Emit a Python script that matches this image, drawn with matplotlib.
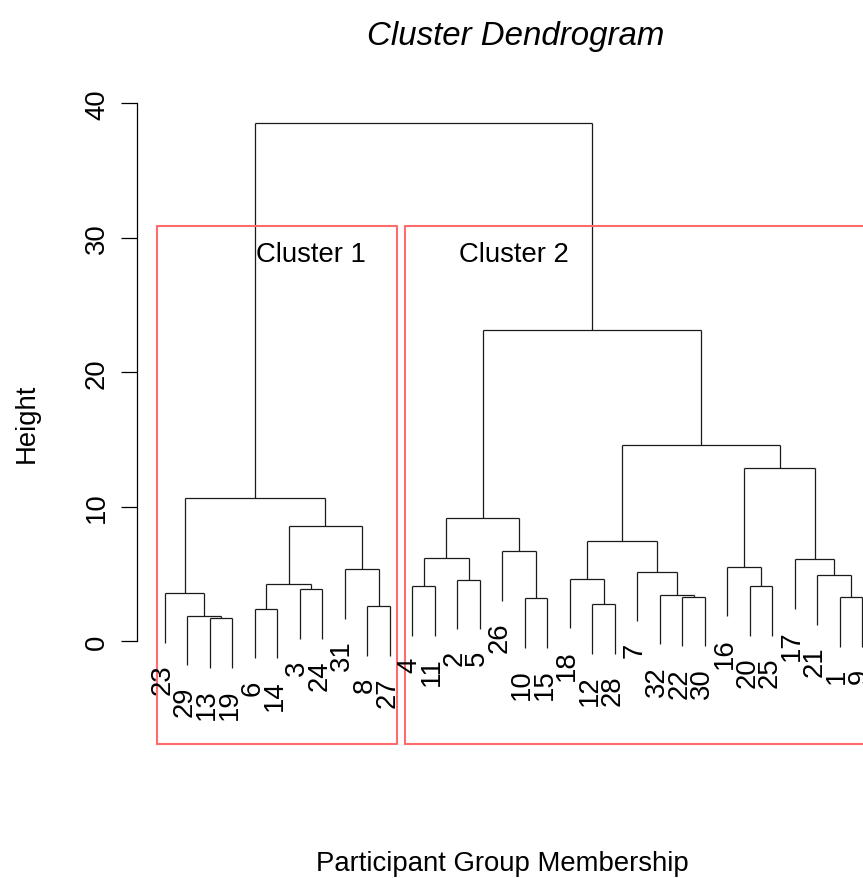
import numpy as np
import matplotlib
matplotlib.use('Agg')
import matplotlib.pyplot as plt
from matplotlib.transforms import offset_copy

plt.rcParams['font.family'] = ['Liberation Sans', 'DejaVu Sans']

# leaf order as drawn (left to right)
leaf_order = [23, 29, 13, 19, 6, 14, 3, 24, 31, 8, 27, 4, 11, 2, 5, 26,
              10, 15, 18, 12, 28, 7, 32, 22, 30, 16, 20, 25, 17, 21, 1, 9]

# hclust-style merge table: negative = observation, positive = merge row (1-based)
merge_left = [-13, -29, -6, -8, -12, -10, -1, -22, -32, -23, -3, -4, -20, 3, -2, -18,
              -21, -7, -31, -16, -17, 12, -26, 16, 14, 22, 10, 20, 24, 26, 27]
merge_right = [-19, 1, -14, -27, -28, -15, -9, -30, 8, 2, -24, -11, -25, 11, -5, 5,
               7, 9, 4, 13, 17, 15, 6, 18, 19, 23, 25, 21, 28, 29, 30]
merge_height = [1.72, 1.92, 2.42, 2.62, 2.79, 3.21, 3.29, 3.33, 3.46, 3.58, 3.90,
                4.10, 4.10, 4.28, 4.60, 4.65, 4.94, 5.19, 5.39, 5.56, 6.13, 6.19,
                6.71, 7.45, 8.61, 9.18, 10.70, 12.88, 14.63, 23.18, 38.55]

cluster_labels = ['Cluster 1', 'Cluster 2']
cluster_label_x = [7.5, 16.5]
cluster_label_y = 28.8

W, H = 863, 879
fig = plt.figure(figsize=(W / 100, H / 100), dpi=100)
ax = fig.add_axes([137 / W, (H - 745) / H, 753.4 / W, 645 / H])
ax.set_xlim(-0.24, 33.24)
ax.set_ylim(-7.62, 40.33)

hang = 0.1 * (max(merge_height) - min(merge_height))
leaf_x = {lab: i + 1 for i, lab in enumerate(leaf_order)}
node_x = []

def child_pos(c):
    if c < 0:
        return leaf_x[-c], None
    return node_x[c - 1], merge_height[c - 1]

lc = '#1a1a1a'
for l, r, h in zip(merge_left, merge_right, merge_height):
    xl, hl = child_pos(l)
    xr, hr = child_pos(r)
    node_x.append((xl + xr) / 2)
    ax.plot([xl, xr], [h, h], color=lc, lw=0.9, solid_capstyle='butt')
    for c, xc, hc in [(l, xl, hl), (r, xr, hr)]:
        bottom = h - hang if hc is None else hc
        ax.plot([xc, xc], [h, bottom], color=lc, lw=0.9, solid_capstyle='butt')
        if hc is None:
            tr = offset_copy(ax.transData, fig=fig, x=-2, y=-15, units='points')
            ax.text(xc, bottom, str(-c), rotation=90, ha='center', va='top',
                    fontsize=19.8, transform=tr, clip_on=False)

# rect.hclust(k = 2)
top = np.mean(merge_height[-2:])
bounds = [(0.66, 11.33), (11.66, 32.33)]
for x0, x1 in bounds:
    ax.plot([x0, x1, x1, x0, x0], [-7.62, -7.62, top, top, -7.62],
            color='#ff6a6a', lw=1.5, clip_on=False)

for lab, cx in zip(cluster_labels, cluster_label_x):
    ax.text(cx, cluster_label_y, lab, ha='center', va='center', fontsize=19.8)

for s in ['top', 'right', 'bottom']:
    ax.spines[s].set_visible(False)
ax.spines['left'].set_bounds(0, 40)
ax.spines['left'].set_linewidth(0.9)
ax.set_xticks([])
ax.set_yticks([0, 10, 20, 30, 40])
ax.set_yticklabels(['0', '10', '20', '30', '40'], rotation=90, va='center')
ax.tick_params(axis='y', length=11.5, width=0.9, pad=8, labelsize=19.8)
ax.patch.set_alpha(0)

fig.text(516 / W, 1 - 36 / H, 'Cluster Dendrogram', style='italic', fontsize=23.8,
         ha='center', va='center')
fig.text(502 / W, 1 - 864 / H, 'Participant Group Membership', fontsize=19.8,
         ha='center', va='center')
fig.text(27 / W, 1 - 423 / H, 'Height', rotation=90, fontsize=19.8,
         ha='center', va='center')

fig.savefig('out.png', dpi=100)
